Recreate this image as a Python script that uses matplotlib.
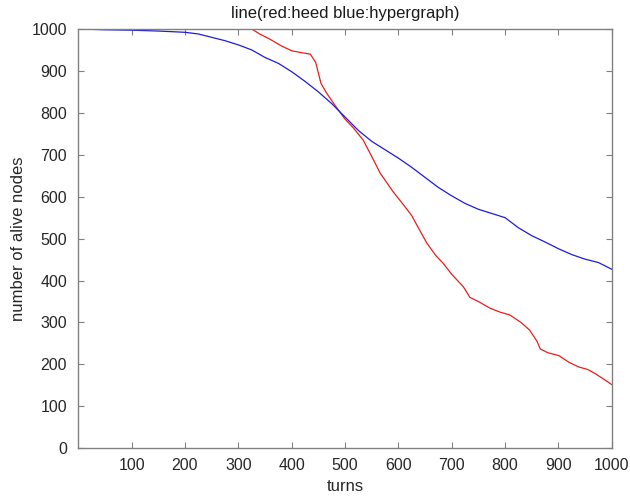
import matplotlib
matplotlib.use("Agg")
import matplotlib.pyplot as plt

plt.rcParams['font.family'] = ['Liberation Sans', 'DejaVu Sans']

# hypergraph (blue)
blue_x = [0, 50, 100, 150, 200, 225, 250, 275, 300, 325, 350, 375, 400, 425, 450, 475,
          500, 525, 550, 575, 600, 625, 650, 675, 700, 725, 750, 775, 800, 825, 850,
          875, 900, 925, 950, 975, 1000]
blue_y = [1000, 998, 997, 995, 992, 988, 980, 972, 962, 950, 932, 918, 898, 875, 850, 822,
          790, 758, 732, 712, 692, 670, 646, 622, 602, 584, 570, 560, 550, 526, 507,
          492, 476, 462, 451, 443, 427]

# heed (red)
red_x = [0, 325, 340, 360, 380, 400, 420, 435, 445, 455, 466, 480, 500, 515, 534, 550,
         566, 590, 610, 625, 640, 653, 670, 684, 700, 722, 734, 750, 772, 790, 809, 830, 846,
         860, 866, 880, 901, 920, 938, 955, 969, 985, 1000]
red_y = [1000, 1000, 988, 975, 960, 948, 943, 940, 920, 870, 846, 820, 785, 765, 735, 696,
         656, 612, 580, 555, 520, 490, 460, 441, 415, 385, 360, 350, 334, 325, 318, 300, 282,
         255, 237, 228, 221, 205, 194, 188, 178, 165, 152]

x_ticks = [100, 200, 300, 400, 500, 600, 700, 800, 900, 1000]
y_ticks = [0, 100, 200, 300, 400, 500, 600, 700, 800, 900, 1000]

fig = plt.figure(figsize=(6.30, 4.99), dpi=100)
ax = fig.add_axes([0.1243, 0.1016, 0.8467, 0.8404])

ax.plot(red_x, red_y, color='#ee1c1c', lw=0.9)
ax.plot(blue_x, blue_y, color='#1c1cdd', lw=0.9)

ax.set_xlim(0, 1000)
ax.set_ylim(0, 1000)
ax.set_xticks(x_ticks)
ax.set_yticks(y_ticks)

for s in ax.spines.values():
    s.set_color('#808080')
    s.set_linewidth(1.0)
ax.tick_params(direction='in', length=4, width=0.8, color='#808080',
               top=True, right=True, labelsize=11.5, labelcolor='#262626')
ax.tick_params(axis='x', pad=7)
ax.tick_params(axis='y', pad=8)

ax.set_title('line(red:heed blue:hypergraph)', fontsize=12, color='#1a1a1a', pad=8)
ax.set_xlabel('turns', fontsize=12, color='#262626', labelpad=4)
ax.set_ylabel('number of alive nodes', fontsize=12, color='#262626', labelpad=4)

fig.savefig('out.png', dpi=100)
